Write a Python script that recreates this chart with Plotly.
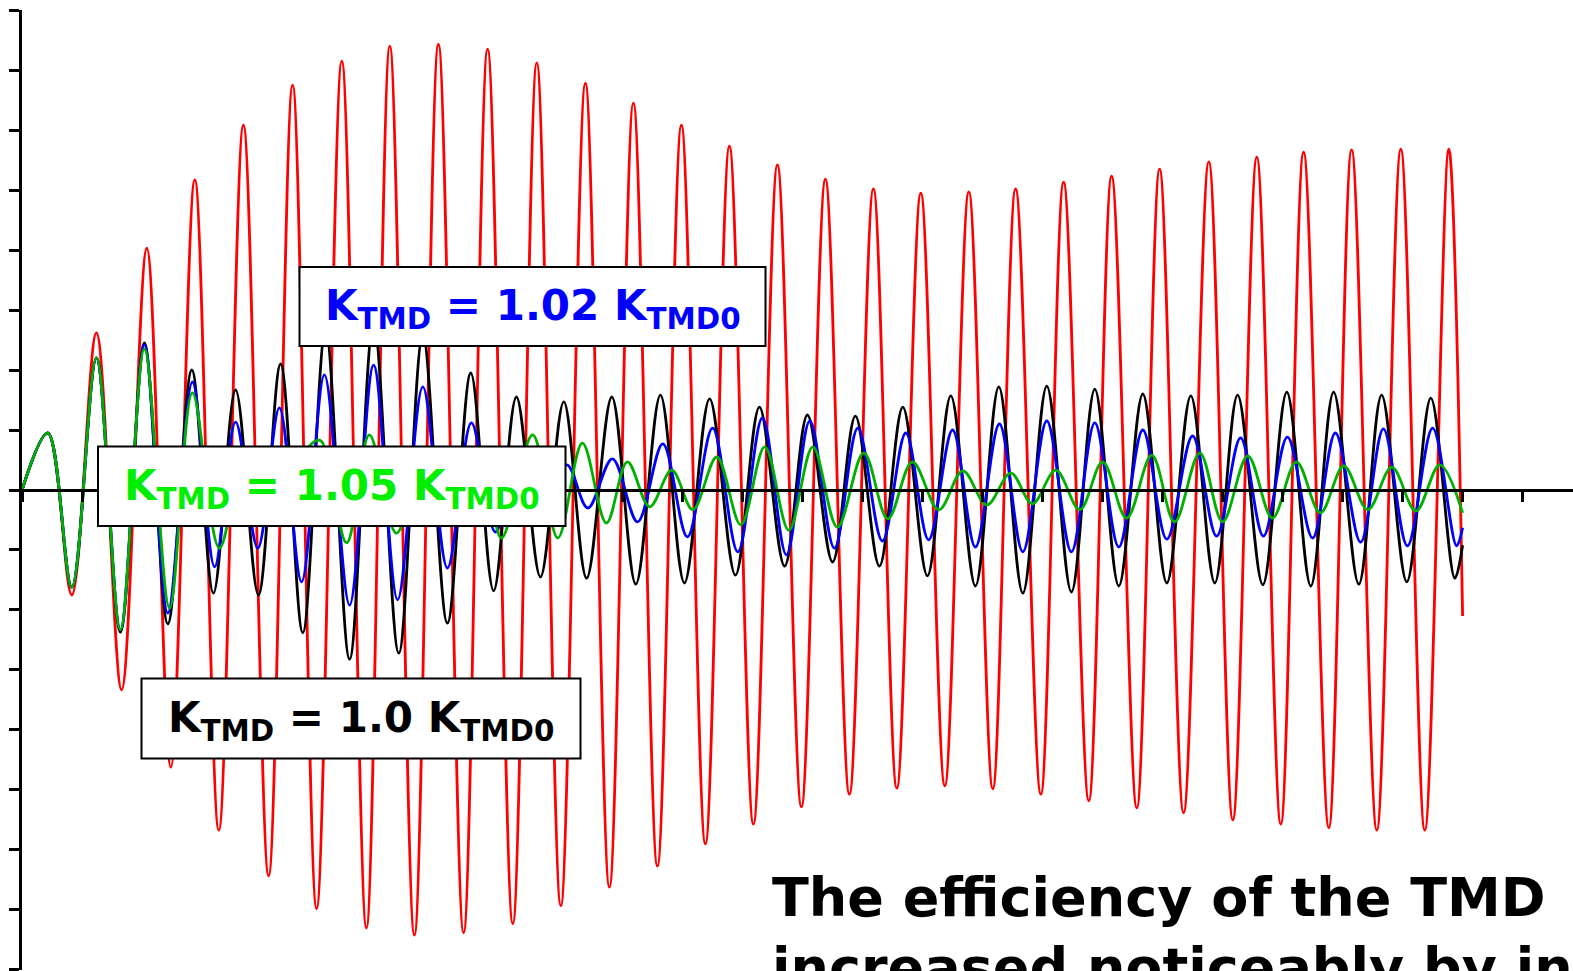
import plotly.graph_objects as go

# ---- data: extrema (time, displacement) ----
red_t = [0.00, 0.43, 0.83, 1.24, 1.66, 2.08, 2.48, 2.88, 3.28, 3.69, 4.11, 4.51, 4.91, 5.33, 5.74, 6.13,
         6.54, 6.94, 7.36, 7.76, 8.18, 8.58, 8.98, 9.39, 9.79, 10.19, 10.59, 10.99, 11.39, 11.79, 12.19,
         12.59, 12.99, 13.39, 13.79, 14.19, 14.58, 14.98, 15.38, 15.78, 16.18, 16.56, 16.98, 17.36, 17.78,
         18.16, 18.58, 18.96, 19.36, 19.78, 20.18, 20.58, 20.98, 21.36, 21.78, 22.16, 22.58, 22.98, 23.38,
         23.78, 24.01]
red_y = [0.00, 0.95, -1.75, 2.62, -3.33, 4.03, -4.62, 5.17, -5.67, 6.08, -6.43, 6.75, -6.98, 7.15, -7.30, 7.40,
         -7.42, 7.43, -7.38, 7.35, -7.23, 7.12, -6.93, 6.78, -6.62, 6.45, -6.27, 6.08, -5.90, 5.73, -5.57,
         5.42, -5.28, 5.18, -5.07, 5.02, -4.97, 4.95, -4.93, 4.97, -4.98, 5.02, -5.07, 5.13, -5.18,
         5.23, -5.30, 5.35, -5.38, 5.47, -5.50, 5.55, -5.57, 5.63, -5.63, 5.67, -5.67, 5.68, -5.67,
         5.68, -2.10]

black_t = [0.00, 0.43, 0.83, 1.24, 1.64, 2.04, 2.43, 2.83, 3.19, 3.56, 3.94, 4.31, 4.68, 5.06, 5.46, 5.86,
           6.28, 6.68, 7.09, 7.48, 7.86, 8.24, 8.64, 9.03, 9.41, 9.83, 10.23, 10.64, 11.04, 11.46, 11.89,
           12.29, 12.71, 13.09, 13.51, 13.89, 14.29, 14.68, 15.09, 15.48, 15.89, 16.28, 16.68, 17.08, 17.49,
           17.88, 18.28, 18.68, 19.08, 19.48, 19.88, 20.26, 20.68, 21.08, 21.48, 21.86, 22.28, 22.66, 23.08,
           23.48, 23.88, 24.01]
black_y = [0.00, 0.95, -1.62, 2.20, -2.37, 2.45, -2.23, 2.00, -1.72, 1.67, -1.75, 2.10, -2.38, 2.67, -2.82, 2.80,
           -2.72, 2.58, -2.22, 1.95, -1.68, 1.55, -1.45, 1.47, -1.47, 1.55, -1.57, 1.58, -1.55, 1.52, -1.42,
           1.38, -1.27, 1.25, -1.20, 1.23, -1.27, 1.38, -1.43, 1.57, -1.60, 1.72, -1.72, 1.73, -1.70,
           1.68, -1.60, 1.60, -1.55, 1.57, -1.55, 1.58, -1.58, 1.63, -1.60, 1.63, -1.57, 1.58, -1.53,
           1.53, -1.47, -0.92]

blue_t = [0.00, 0.43, 0.83, 1.24, 1.64, 2.04, 2.43, 2.84, 3.21, 3.56, 3.93, 4.29, 4.66, 5.04, 5.46, 5.86,
          6.26, 6.68, 7.09, 7.49, 7.89, 8.29, 8.68, 9.08, 9.43, 9.84, 10.26, 10.68, 11.09, 11.51, 11.93,
          12.34, 12.74, 13.13, 13.54, 13.93, 14.34, 14.73, 15.11, 15.51, 15.89, 16.29, 16.68, 17.08, 17.49,
          17.88, 18.28, 18.68, 19.08, 19.51, 19.91, 20.31, 20.69, 21.09, 21.51, 21.89, 22.31, 22.69, 23.09,
          23.51, 23.91, 24.01]
blue_y = [0.00, 0.95, -1.62, 2.20, -2.33, 2.42, -2.05, 1.80, -1.28, 1.13, -0.97, 1.37, -1.53, 1.92, -1.92, 2.08,
          -1.83, 1.72, -1.30, 1.12, -0.70, 0.67, -0.37, 0.42, -0.30, 0.52, -0.53, 0.77, -0.78, 1.03, -1.03,
          1.20, -1.08, 1.15, -0.97, 1.03, -0.85, 0.95, -0.83, 1.00, -0.95, 1.10, -1.03, 1.15, -1.03,
          1.12, -0.95, 1.00, -0.82, 0.90, -0.77, 0.87, -0.77, 0.88, -0.80, 0.95, -0.87, 1.02, -0.93,
          1.03, -0.93, -0.63]

green_t = [0.00, 0.43, 0.83, 1.24, 1.64, 2.04, 2.46, 2.84, 3.29, 3.71, 4.19, 4.58, 4.96, 5.41, 5.79, 6.24,
           6.71, 7.16, 7.63, 7.99, 8.51, 8.93, 9.34, 9.74, 10.09, 10.46, 10.83, 11.18, 11.58, 11.98, 12.38,
           12.78, 13.18, 13.59, 14.03, 14.43, 14.84, 15.28, 15.68, 16.08, 16.48, 16.84, 17.23, 17.63, 18.01,
           18.41, 18.83, 19.21, 19.63, 20.01, 20.43, 20.84, 21.24, 21.64, 22.03, 22.43, 22.83, 23.23, 23.63,
           24.01]
green_y = [0.00, 0.95, -1.62, 2.20, -2.33, 2.35, -1.97, 1.62, -0.97, 0.50, -0.40, 0.45, 0.83, -0.88, 0.92, -0.72,
           0.55, -0.55, 0.72, -0.80, 0.92, -0.80, 0.78, -0.55, 0.47, -0.28, 0.33, -0.33, 0.55, -0.58, 0.72,
           -0.67, 0.72, -0.62, 0.62, -0.48, 0.47, -0.33, 0.32, -0.25, 0.28, -0.23, 0.33, -0.33, 0.47,
           -0.47, 0.58, -0.53, 0.62, -0.53, 0.57, -0.47, 0.47, -0.38, 0.40, -0.33, 0.38, -0.35, 0.42,
           -0.38]

# ---- layout helpers (pixel -> data) ----
W, H = 1573, 971
ML, MT, MB = 22, 10, 1
PX = 60.0


def X(px):
    return (px - ML - 0.5) / PX


def Y(py):
    return (490 - py) / PX


FONT = "Comic Sans MS, DejaVu Sans, sans-serif"

fig = go.Figure()
for t, y, c in [(red_t, red_y, "#ff0000"), (black_t, black_y, "#000000"),
                (blue_t, blue_y, "#0000ff"), (green_t, green_y, "#00b000")]:
    fig.add_trace(go.Scatter(x=t, y=y, mode="lines",
                             line=dict(color=c, width=2.8, shape="spline", smoothing=1),
                             showlegend=False, hoverinfo="skip"))

boxes = [
    (300, 267, 766, 346, "#0000ff", "K<sub>TMD</sub> = 1.02 K<sub>TMD0</sub>"),
    (98.5, 446.5, 566, 526, "#00ee00", "K<sub>TMD</sub> = 1.05 K<sub>TMD0</sub>"),
    (142, 678.5, 581, 758.5, "#000000", "K<sub>TMD</sub> = 1.0 K<sub>TMD0</sub>"),
]
shapes = []
annotations = []
for x0, y0, x1, y1, col, txt in boxes:
    shapes.append(dict(type="rect", xref="x", yref="y", x0=X(x0), x1=X(x1), y0=Y(y0), y1=Y(y1),
                       fillcolor="white", line=dict(color="black", width=2), layer="above"))
    annotations.append(dict(xref="x", yref="y", x=X((x0 + x1) / 2), y=Y((y0 + y1) / 2 + 2),
                            text="<b>" + txt + "</b>", showarrow=False, xanchor="center", yanchor="middle",
                            font=dict(family=FONT, size=42, color=col)))

annotations.append(dict(xref="x", yref="y", x=X(770), y=Y(864), xanchor="left", yanchor="top",
                        align="left", showarrow=False,
                        text="<b>The efficiency of the TMD<br>increased noticeably by increasing</b>",
                        font=dict(family=FONT, size=54, color="black")))

fig.update_layout(
    width=W, height=H,
    margin=dict(l=ML, r=0, t=MT, b=MB, pad=0),
    paper_bgcolor="white", plot_bgcolor="white",
    shapes=shapes, annotations=annotations,
    xaxis=dict(range=[0, (W - ML) / PX], anchor="free", position=0.5, showline=True, linecolor="black",
               linewidth=3, ticks="outside", ticklen=10, tickwidth=3, tickcolor="black", tick0=0, dtick=1,
               showticklabels=False, showgrid=False, zeroline=False),
    yaxis=dict(range=[-8.001, 8.001], showline=True, linecolor="black", linewidth=3, ticks="outside",
               ticklen=10, tickwidth=3, tickcolor="black", tick0=0, dtick=1, showticklabels=False,
               showgrid=False, zeroline=False),
)

fig.write_html("out.html")
